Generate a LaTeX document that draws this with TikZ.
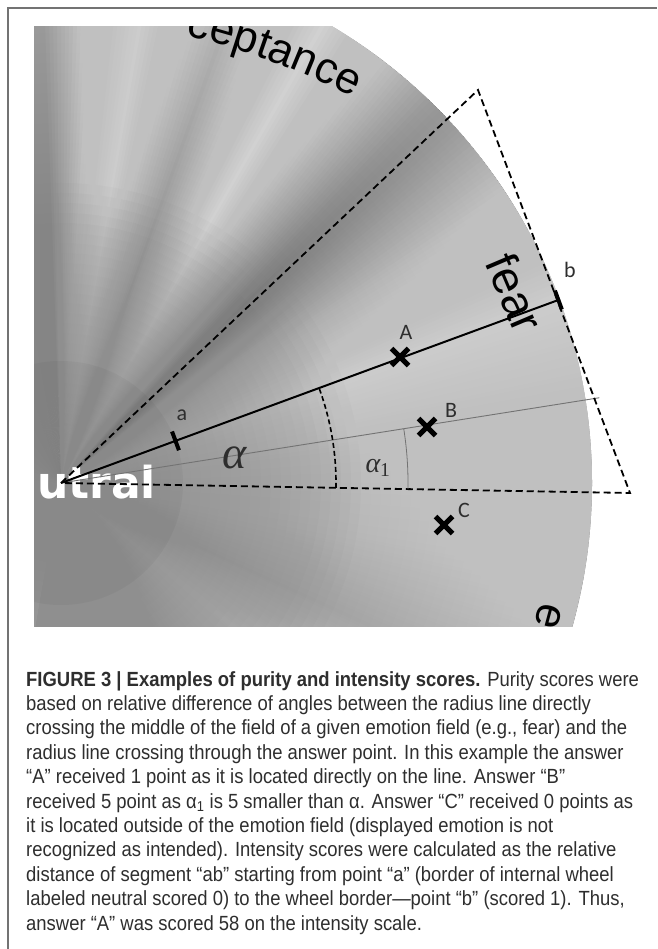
\documentclass[tikz,border=0pt]{standalone}
\usepackage{fontspec}
\setmainfont{Liberation Sans}
\newfontfamily\capfont[FakeStretch=0.90]{Liberation Sans}
\newfontfamily\labfont{Liberation Sans}
\newfontfamily\ltrfont{Carlito}
\newfontfamily\neutfont{DejaVu Sans}
\newfontfamily\grkfont{Liberation Serif}
\usetikzlibrary{calc,decorations.text,shapes.misc}
\definecolor{framegray}{gray}{0.45}
\definecolor{inkgray}{gray}{0.18}
\definecolor{thingray}{gray}{0.45}
\definecolor{coregray}{gray}{0.56}
\tikzset{
  dashline/.style={line width=1.8pt, dash pattern=on 7pt off 4pt},
  arcdash/.style={line width=1.6pt, dash pattern=on 5pt off 3pt},
  fearline/.style={line width=2pt, black},
  ansline/.style={line width=0.9pt, thingray},
  tickmark/.style={line width=4pt, black},
  answer/.style={draw, cross out, line width=5pt, minimum size=12pt, inner sep=0pt, black},
  ptlabel/.style={font=\ltrfont\fontsize{22}{22}\selectfont, text=inkgray, inner sep=0pt},
  capline/.style={anchor=base west, inner sep=0pt, font=\capfont\fontsize{20.5}{25}\selectfont, text=inkgray},
}
\begin{document}
\begin{tikzpicture}[x=1pt,y=1pt]
\useasboundingbox (0,0) rectangle (657,-949);
\fill[white] (0,0) rectangle (657,-949);
\draw[framegray, line width=1.5pt] (8,-949) -- (8,-8) -- (657,-8);
\coordinate (N) at (61,-483);
% ---------- photo of the wheel ----------
\begin{scope}
  \clip (34,-27) rectangle (657,-626);
  \clip (N) circle[radius=531];
  \fill[gray!65] (N) circle[radius=540];
  \foreach \a/\ga/\b/\gb in {-100/0.58/-60/0.60, -60/0.60/-40/0.72, -40/0.72/-25/0.62, -25/0.62/-10/0.70, -10/0.70/5/0.73, 5/0.73/20/0.80, 20/0.80/32/0.67, 32/0.67/44/0.46, 44/0.46/52/0.64, 52/0.64/60/0.82, 60/0.82/70/0.60, 70/0.60/80/0.80, 80/0.80/86/0.72, 86/0.72/92/0.52, 92/0.52/180/0.56}{
    \pgfmathtruncatemacro{\n}{2*(\b-\a)-1}
    \foreach \i in {0,...,\n}{
      \pgfmathsetmacro{\t}{\a+\i/2}
      \pgfmathsetmacro{\te}{\a+\i/2+0.8}
      \pgfmathsetmacro{\g}{\ga+(\gb-\ga)*\i/(2*(\b-\a))}
      \definecolor{wc}{gray}{\g}
      \fill[wc] (N) -- ++(\t:560) arc[start angle=\t, end angle=\te, radius=560] -- cycle;
    }
  }
  % uniform grey towards the centre
  \foreach \r in {20,30,...,300}{
    \fill[coregray, fill opacity=0.06] (N) circle[radius=\r];
  }
  % lighter towards the rim
  \foreach \r in {260,270,...,520}{
    \fill[white, fill opacity=0.017, even odd rule] (N) circle[radius=\r] (N) circle[radius=540];
  }
  % internal (neutral) wheel
  \fill[black, fill opacity=0.035] (N) circle[radius=122];
  % curved label
  \path[decorate, decoration={text along path, text align=left,
        text={|\labfont\fontsize{44}{44}\selectfont|ceptance}}]
        (11,-770) ++(76.6:755) arc[start angle=76.6, end angle=55, radius=755];
  \node[font=\labfont\fontsize{44}{44}\selectfont, rotate=-105, inner sep=0pt] (lbe) at (549,-616) {e};
  % neutral label
  \node[font=\neutfont\bfseries\fontsize{44}{44}\selectfont, text=white, anchor=base west, inner sep=0pt] (neut) at (37,-498) {utral};
\end{scope}
% ---------- geometry ----------
\coordinate (T) at (478,-90);
\coordinate (R) at (630,-493);
\coordinate (bpt) at ($(N)+(20.2:530)$);
\coordinate (apt) at ($(N)+(20.2:122)$);
\coordinate (G) at ($(N)+(9:545)$);
\coordinate (arcAs) at ($(N)+(-1:275)$);
\coordinate (arcBs) at ($(N)+(-1:347)$);
\draw[ansline] (N) -- (G);
\draw[dashline] (N) -- (T) -- (R) -- cycle;
\draw[fearline] (N) -- (bpt);
\draw[arcdash] (arcAs) arc[start angle=-1, end angle=20.2, radius=275];
\draw[ansline, line width=0.8pt] (arcBs) arc[start angle=-1, end angle=9, radius=347];
\draw[tickmark] ($(apt)+(110.2:10)$) -- ($(apt)+(-69.8:10)$);
\draw[tickmark] ($(bpt)+(110.2:10)$) -- ($(bpt)+(-69.8:10)$);
\node[font=\labfont\fontsize{46}{46}\selectfont, rotate=-67, inner sep=0pt] (fear) at (515,-293) {fear};
\node[answer] (A) at (400,-357) {};
\node[answer] (B) at (427,-427) {};
\node[answer] (C) at (444,-525) {};
\node[ptlabel] (lA) at (406,-332) {A};
\node[ptlabel] (lB) at (451,-410) {B};
\node[ptlabel] (lC) at (464,-510) {C};
\node[ptlabel] (la) at (182,-415) {a};
\node[ptlabel] (lb) at (570,-270) {b};
\node[text=inkgray, inner sep=0pt, font=\grkfont\itshape\fontsize{46}{46}\selectfont] (alpha) at (235,-458) {α};
\node[text=inkgray, inner sep=0pt, font=\grkfont\itshape\fontsize{28}{28}\selectfont] (alpha1) at (378,-468) {α\textsubscript{\upshape 1}};
% ---------- caption ----------
\node[capline] (cap1) at (26,-686.0) {{\bfseries FIGURE 3 | Examples of purity and intensity scores.} Purity scores were};
\node[capline] (cap2) at (26,-710.4) {based on relative difference of angles between the radius line directly};
\node[capline] (cap3) at (26,-734.8) {crossing the middle of the field of a given emotion field (e.g., fear) and the};
\node[capline] (cap4) at (26,-759.2) {radius line crossing through the answer point. In this example the answer};
\node[capline] (cap5) at (26,-783.6) {“A” received 1 point as it is located directly on the line. Answer “B”};
\node[capline] (cap6) at (26,-808.0) {received 5 point as α\textsubscript{1} is 5 smaller than α. Answer “C” received 0 points as};
\node[capline] (cap7) at (26,-832.4) {it is located outside of the emotion field (displayed emotion is not};
\node[capline] (cap8) at (26,-856.8) {recognized as intended). Intensity scores were calculated as the relative};
\node[capline] (cap9) at (26,-881.2) {distance of segment “ab” starting from point “a” (border of internal wheel};
\node[capline] (cap10) at (26,-905.6) {labeled neutral scored 0) to the wheel border—point “b” (scored 1). Thus,};
\node[capline] (cap11) at (26,-930.0) {answer “A” was scored 58 on the intensity scale.};
\end{tikzpicture}
\end{document}
